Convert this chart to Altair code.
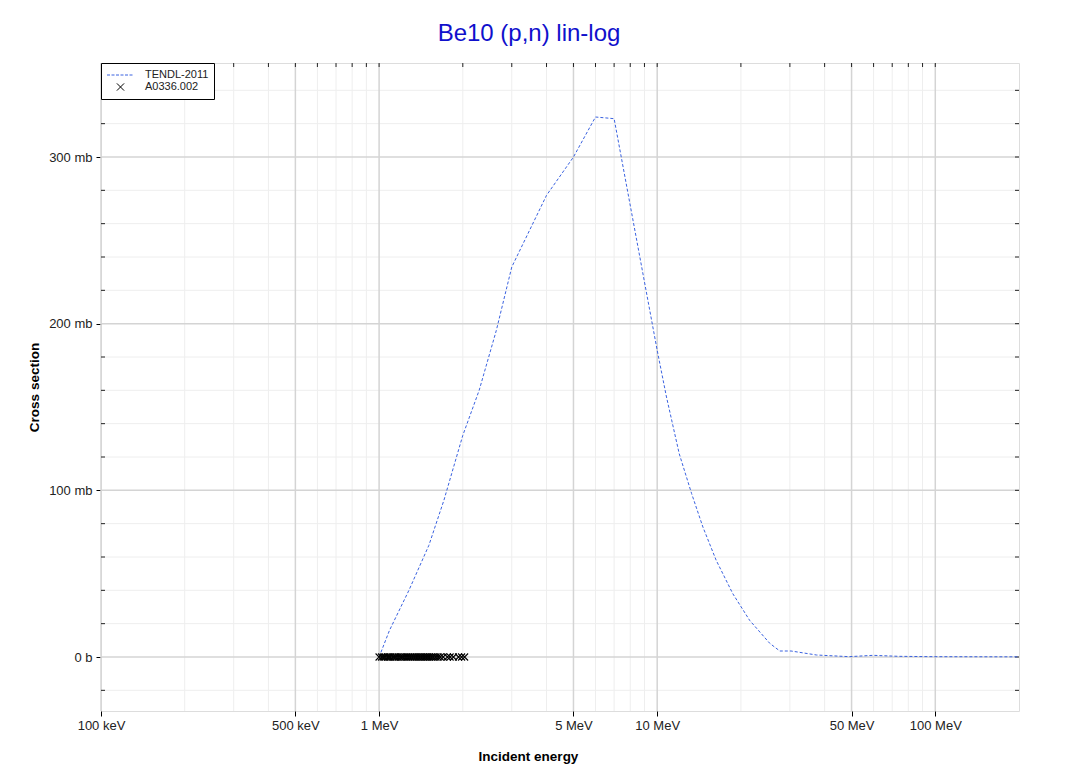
import altair as alt
import pandas as pd

# ---------------- data ----------------
tendl_energy_mev = [1.0, 1.09, 1.28, 1.51, 1.71, 2.0, 2.29, 2.64, 3.0, 4.0, 5.0, 6.0, 7.0,
                    10.0, 10.8, 12.0, 13.3, 14.6, 16.3, 18.7, 21.5, 25.4, 27.6, 30.3,
                    37.4, 49.0, 59.7, 74.0, 98.0, 200.0]
tendl_xs_mb = [0.0, 16.0, 40.0, 67.0, 94.0, 133.0, 160.0, 196.0, 234.0, 277.0, 300.0, 324.0, 323.0,
               184.0, 156.0, 122.0, 98.0, 78.0, 58.0, 38.0, 22.0, 8.2, 3.6, 3.6,
               1.2, 0.2, 1.0, 0.4, 0.2, 0.1]

exp_energy_mev = [1.00, 1.02, 1.035, 1.05, 1.07, 1.085, 1.10, 1.12, 1.135, 1.15, 1.17, 1.19,
                  1.205, 1.22, 1.24, 1.26, 1.28, 1.30, 1.32, 1.34, 1.36, 1.38, 1.40, 1.42,
                  1.44, 1.46, 1.48, 1.50, 1.52, 1.545, 1.57, 1.60, 1.63, 1.66, 1.70,
                  1.76, 1.80, 1.85, 1.93, 1.98, 2.03]
exp_xs_mb = [0.0] * len(exp_energy_mev)

series_names = ["TENDL-2011", "A0336.002"]
series_colors = ["#3a62e0", "#000000"]

x_major = [0.1, 0.5, 1, 5, 10, 50, 100]
x_minor = [0.2, 0.3, 0.4, 0.6, 0.7, 0.8, 0.9, 2, 3, 4, 6, 7, 8, 9,
           20, 30, 40, 60, 70, 80, 90]
y_major = [0, 100, 200, 300]
y_minor = [-20, 20, 40, 60, 80, 120, 140, 160, 180, 220, 240, 260, 280, 320, 340]

x_domain = [0.1, 200]
y_domain = [-32.4, 356.4]

# ---------------- frames ----------------
tendl_df = pd.DataFrame({"E": tendl_energy_mev, "xs": tendl_xs_mb})
exp_df = pd.DataFrame({"E": exp_energy_mev, "xs": exp_xs_mb, "series": "A0336.002"})
xmaj_df = pd.DataFrame({"v": x_major})
xmin_df = pd.DataFrame({"v": x_minor})
xall_df = pd.DataFrame({"v": x_major[1:] + x_minor})
ymaj_df = pd.DataFrame({"v": y_major})
ymin_df = pd.DataFrame({"v": y_minor})
yall_df = pd.DataFrame({"v": y_major + y_minor})

W, H = 918, 648
FONT = "Liberation Sans"

xscale = alt.Scale(type="log", domain=x_domain, nice=False)
yscale = alt.Scale(domain=y_domain, nice=False, zero=False)

x_axis = alt.Axis(
    values=x_major,
    labelExpr="datum.value < 1 ? round(datum.value*1000) + ' keV' : round(datum.value) + ' MeV'",
    title="Incident energy", grid=False, domain=False, tickSize=5, tickColor="#000000",
    labelFlush=False, labelFont=FONT, labelFontSize=13, labelColor="#222222", labelPadding=3,
    titleFont=FONT, titleFontSize=13.5, titleFontWeight="bold", titleColor="#000000",
    titlePadding=17, titleX=427,
)
y_axis = alt.Axis(
    values=y_major,
    labelExpr="datum.value == 0 ? '0 b' : datum.value + ' mb'",
    title="Cross section", grid=False, domain=False, tickSize=5, tickColor="#000000",
    labelFont=FONT, labelFontSize=13, labelColor="#222222", labelPadding=4,
    titleFont=FONT, titleFontSize=13.5, titleFontWeight="bold", titleColor="#000000",
    titlePadding=7,
)

# grid
gx_minor = alt.Chart(xmin_df).mark_rule(color="#eeeeee", strokeWidth=1).encode(
    x=alt.X("v:Q", scale=xscale, axis=x_axis))
gx_major = alt.Chart(xmaj_df).mark_rule(color="#d4d4d4", strokeWidth=1.5).encode(
    x=alt.X("v:Q", scale=xscale))
gy_minor = alt.Chart(ymin_df).mark_rule(color="#eeeeee", strokeWidth=1).encode(
    y=alt.Y("v:Q", scale=yscale, axis=y_axis))
gy_major = alt.Chart(ymaj_df).mark_rule(color="#d4d4d4", strokeWidth=1.5).encode(
    y=alt.Y("v:Q", scale=yscale))

# inward ticks on frame
top_ticks = alt.Chart(xall_df).mark_rule(color="#222222", strokeWidth=1).encode(
    x=alt.X("v:Q", scale=xscale), y=alt.value(0), y2=alt.value(4))
right_ticks = alt.Chart(yall_df).mark_rule(color="#222222", strokeWidth=1).encode(
    y=alt.Y("v:Q", scale=yscale), x=alt.value(W - 4), x2=alt.value(W))
left_ticks = alt.Chart(ymin_df).mark_rule(color="#222222", strokeWidth=1).encode(
    y=alt.Y("v:Q", scale=yscale), x=alt.value(0), x2=alt.value(4))

# data
line = alt.Chart(tendl_df).mark_line(color=series_colors[0], strokeWidth=1, strokeDash=[3, 2]).encode(
    x=alt.X("E:Q", scale=xscale), y=alt.Y("xs:Q", scale=yscale), order="E:Q")

pts = alt.Chart(exp_df).mark_point(filled=False, size=49, strokeWidth=1.1, color="#000000",
                                   shape="M-1,-1L1,1M-1,1L1,-1", opacity=1).encode(
    x=alt.X("E:Q", scale=xscale), y=alt.Y("xs:Q", scale=yscale))

# legend-only layer (no rows drawn)
dash_path = "M-1,0H-0.5M-0.25,0H0.25M0.5,0H1M1.25,0H1.75M2,0H2.5M2.75,0H3.25"
cross_path = "M0.65,-0.6L1.85,0.6M0.65,0.6L1.85,-0.6"
leg = alt.Legend(title=None, orient="top-left", offset=0, padding=5.5, strokeColor="#000000",
                 fillColor="#ffffff", labelFont=FONT, labelFontSize=11, labelColor="#222222",
                 labelOffset=25.5, symbolSize=144, symbolStrokeWidth=1, rowPadding=0,
                 cornerRadius=0)
legend_layer = alt.Chart(exp_df).transform_filter("false").mark_point(
    filled=False, size=144, strokeWidth=1, opacity=1).encode(
    x=alt.X("E:Q", scale=xscale), y=alt.Y("xs:Q", scale=yscale),
    color=alt.Color("series:N", scale=alt.Scale(domain=series_names, range=series_colors), legend=leg),
    shape=alt.Shape("series:N", scale=alt.Scale(domain=series_names, range=[dash_path, cross_path]), legend=leg),
)

chart = alt.layer(
    gx_minor, gy_minor, gx_major, gy_major, top_ticks, right_ticks, left_ticks,
    line, pts, legend_layer
).properties(
    width=W, height=H,
    title=alt.Title("Be10 (p,n) lin-log", font=FONT, fontSize=24, fontWeight="normal",
                    color="#1010cc", anchor="middle", dx=-31, offset=-3, baseline="alphabetic"),
    autosize=alt.AutoSizeParams(type="none"),
    padding={"left": 101, "top": 63, "right": 48, "bottom": 63},
).configure_view(stroke="#000000", strokeWidth=1).configure(background="#ffffff")

chart.save("out.html", embed_options={"renderer": "svg", "actions": False})
